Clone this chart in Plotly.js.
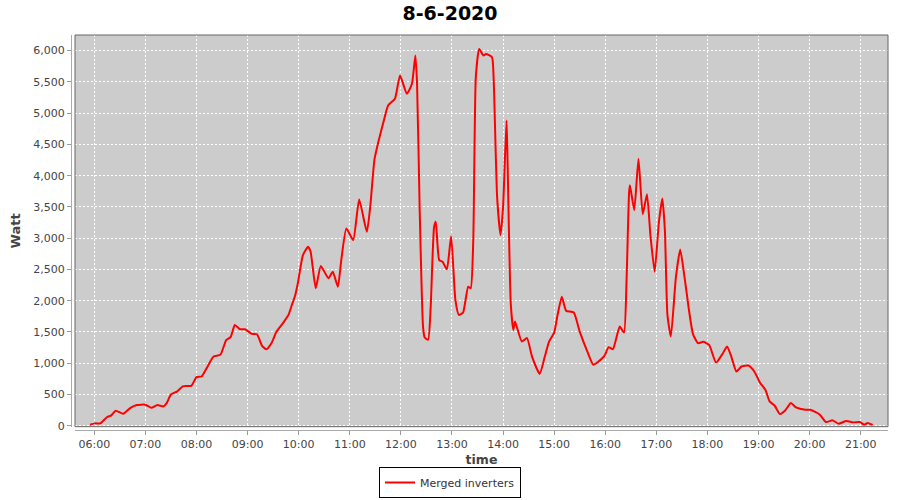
<!DOCTYPE html>
<html>
<head>
<meta charset="utf-8">
<script src="https://cdn.plot.ly/plotly-3.0.1.min.js"></script>
<style>
  html, body { margin: 0; padding: 0; background: #ffffff; }
  #chart { width: 900px; height: 500px; }
</style>
</head>
<body>
<div id="chart"></div>
<script>
const chartDate = "2020-06-08";
const chartTitle = "8-6-2020";
const seriesName = "Merged inverters";

const times = [
  "05:55","06:01","06:07","06:15","06:20","06:25","06:34","06:42","06:50","07:00",
  "07:07","07:14","07:21","07:25","07:30","07:37","07:44","07:54","08:00","08:06",
  "08:12","08:20","08:28","08:35","08:40","08:45","08:51","08:57","09:05","09:11",
  "09:17","09:22","09:28","09:34","09:42","09:48","09:52","09:56","09:59","10:05",
  "10:11","10:14","10:20","10:26","10:35","10:40","10:46","10:50","10:56","11:04",
  "11:11","11:20","11:24","11:29","11:34","11:40","11:45","11:53","11:59","12:07",
  "12:13","12:17","12:19","12:22","12:26","12:28","12:32","12:35","12:39","12:41",
  "12:45","12:49","12:54","12:59","13:04","13:08","13:13","13:19","13:22","13:25",
  "13:28","13:32","13:37","13:40","13:47","13:49","13:53","13:57","14:00","14:04",
  "14:05","14:09","14:12","14:14","14:22","14:28","14:34","14:43","14:49","14:54",
  "15:00","15:04","15:09","15:14","15:23","15:30","15:39","15:46","15:53","15:59",
  "16:04","16:09","16:17","16:22","16:25","16:28","16:29","16:34","16:39","16:44",
  "16:49","16:53","16:58","17:03","17:07","17:10","17:13","17:17","17:23","17:28",
  "17:33","17:38","17:43","17:49","17:55","18:02","18:10","18:17","18:23","18:28",
  "18:34","18:40","18:48","18:55","19:02","19:08","19:13","19:19","19:25","19:31",
  "19:38","19:44","19:55","20:01","20:12","20:19","20:27","20:34","20:43","20:51",
  "20:59","21:04","21:08","21:14"
];

const watts = [
  16,37,37,139,165,240,190,282,330,335,
  285,330,308,362,500,545,630,638,777,787,
  921,1106,1133,1373,1415,1612,1543,1543,1468,1463,
  1277,1224,1320,1505,1649,1772,1931,2091,2278,2729,
  2862,2782,2198,2554,2357,2463,2223,2649,3155,2969,
  3620,3101,3500,4260,4565,4884,5123,5230,5602,5310,
  5470,5921,5470,3500,1585,1410,1373,1904,3181,3261,
  2649,2622,2501,3032,2011,1772,1809,2223,2198,2969,
  5575,6028,5921,5948,5894,5522,3660,3048,3500,4884,
  4405,1958,1532,1665,1346,1405,1106,830,1106,1346,
  1489,1772,2064,1840,1809,1505,1186,974,1037,1117,
  1256,1224,1585,1489,2330,3740,3846,3447,4272,3383,
  3703,3048,2463,3261,3634,3128,1772,1425,2383,2820,
  2383,1878,1465,1320,1341,1293,1010,1133,1266,1106,
  867,947,962,867,681,575,388,319,187,240,
  362,292,255,255,176,59,85,32,75,53,
  59,16,43,11
];

const xValues = times.map(t => chartDate + " " + t);

const trace = {
  type: "scatter",
  mode: "lines",
  name: seriesName,
  x: xValues,
  y: watts,
  line: { color: "#ff0000", width: 2, shape: "spline", smoothing: 0.5 },
  showlegend: true
};

const tickFont = { family: "DejaVu Sans", size: 11, color: "#444444" };
const gridStyle = { gridcolor: "#ffffff", griddash: "2px,2px", gridwidth: 1 };

const layout = {
  width: 900,
  height: 500,
  paper_bgcolor: "#ffffff",
  plot_bgcolor: "#cccccc",
  margin: { l: 71, r: 12, t: 35, b: 70 },
  font: { family: "DejaVu Sans", color: "#444444" },
  title: {
    text: "<b>" + chartTitle + "</b>",
    x: 0.5, xref: "container", xanchor: "center",
    y: 0.974, yref: "container", yanchor: "middle",
    font: { family: "DejaVu Sans", size: 19, color: "#000000" }
  },
  xaxis: Object.assign({
    type: "date",
    domain: [0.0049, 1],
    anchor: "free",
    position: 0,
    range: [chartDate + " 05:37:20", chartDate + " 21:32:00"],
    tick0: chartDate + " 06:00",
    dtick: 3600000,
    tickformat: "%H:%M",
    ticks: "outside",
    ticklen: 4,
    tickcolor: "#999999",
    showline: true,
    linecolor: "#aaaaaa",
    linewidth: 1,
    zeroline: false,
    tickfont: tickFont,
    title: { text: "<b>time</b>", standoff: 6, font: { family: "DejaVu Sans", size: 12.5, color: "#444444" } }
  }, gridStyle),
  yaxis: Object.assign({
    domain: [0.0084, 1],
    anchor: "free",
    position: 0,
    range: [-16, 6250],
    dtick: 500,
    tick0: 0,
    tickformat: ",d",
    ticks: "outside",
    ticklen: 4,
    tickcolor: "#999999",
    showline: true,
    linecolor: "#aaaaaa",
    linewidth: 1,
    zeroline: false,
    tickfont: tickFont,
    title: { text: "<b>Watt</b>", standoff: 8, font: { family: "DejaVu Sans", size: 13, color: "#444444" } }
  }, gridStyle),
  shapes: [{
    type: "rect", xref: "x domain", yref: "y domain",
    x0: 0, x1: 1, y0: 0, y1: 1,
    line: { color: "#666666", width: 1 },
    fillcolor: "rgba(0,0,0,0)",
    layer: "above"
  }],
  legend: {
    orientation: "h",
    xref: "container", x: 0.5, xanchor: "center",
    yref: "container", y: 0.004, yanchor: "bottom",
    bordercolor: "#000000", borderwidth: 1,
    bgcolor: "#ffffff",
    itemwidth: 30,
    font: { family: "DejaVu Sans", size: 11, color: "#333333" }
  }
};

Plotly.newPlot("chart", [trace], layout, { displayModeBar: false, staticPlot: true });
</script>
</body>
</html>
